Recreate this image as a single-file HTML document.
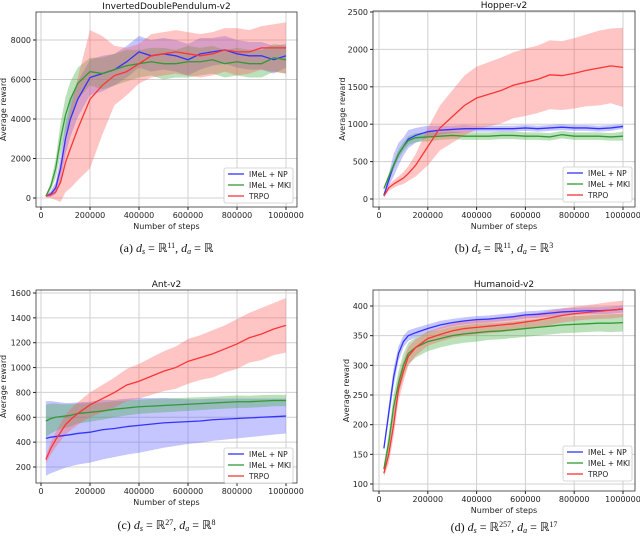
<!DOCTYPE html>
<html><head><meta charset="utf-8"><style>
body{margin:0;background:#fff;}
svg{display:block;font-family:"DejaVu Sans","Liberation Sans",sans-serif;}
.cap{font-family:"Liberation Serif",serif;font-size:12px;}
</style></head><body>
<svg id="fig" width="640" height="536" viewBox="0 0 640 536"></svg>
<script>
const steps=[20000,40000,60000,80000,100000,120000,150000,200000,250000,300000,350000,400000,450000,500000,550000,600000,650000,700000,750000,800000,850000,900000,950000,1000000];
const xTicks=[0,200000,400000,600000,800000,1000000];
const seriesNames=["IMeL + NP","IMeL + MKI","TRPO"];
// Panel a
const aTitle="InvertedDoublePendulum-v2";
const aTicks=[0,2000,4000,6000,8000];
const aNP=[100,200,500,1500,3000,4000,5000,6100,6300,6500,6900,7400,7200,7300,7200,7000,7300,7400,7500,7300,7200,7200,7000,7200];
const aNPs=[50,150,300,600,800,900,900,900,900,800,800,800,800,800,800,800,800,700,700,700,700,700,700,600];
const aMKI=[100,600,1500,3000,4200,5000,5800,6400,6300,6500,6700,6800,6900,6800,6800,6900,6900,7000,6800,6900,6800,6800,7100,7000];
const aMKIs=[50,200,500,800,900,900,800,700,800,800,800,700,700,800,700,800,700,700,700,700,700,700,700,700];
const aTR=[100,150,300,800,1800,2500,3500,5000,5700,6200,6400,6800,7200,7300,7400,7300,7200,7300,7500,7400,7400,7600,7600,7600];
const aTRs=[80,150,400,1000,1500,2000,2600,3500,2500,1500,1200,1000,1100,1100,1100,1100,1100,1100,1100,1200,1100,1100,1200,1300];
// Panel b
const bTitle="Hopper-v2";
const bTicks=[0,500,1000,1500,2000,2500];
const bNP=[50,250,450,600,700,800,850,900,920,930,940,940,940,940,940,950,940,950,960,950,950,940,950,970];
const bNPs=[20,80,150,150,120,120,100,80,60,50,50,40,40,40,40,40,40,40,40,40,40,40,40,30];
const bMKI=[140,300,450,600,700,780,820,830,840,850,840,840,840,850,850,840,840,830,860,840,840,840,830,840];
const bMKIs=[20,40,50,60,60,60,60,60,50,50,50,50,50,50,50,50,50,50,50,50,50,50,50,60];
const bTR=[40,150,200,240,280,340,450,700,950,1100,1250,1350,1400,1450,1520,1560,1600,1660,1650,1680,1720,1750,1780,1760];
const bTRs=[20,40,50,60,80,100,150,250,300,350,400,420,430,440,440,450,450,460,460,470,480,500,500,530];
// Panel c
const cTitle="Ant-v2";
const cTicks=[200,400,600,800,1000,1200,1400,1600];
const cNP=[430,440,445,450,455,460,470,480,500,510,525,535,545,555,560,565,570,580,585,590,595,600,605,610];
const cNPs=[300,290,280,270,260,255,250,245,240,230,225,220,210,200,190,180,175,170,165,160,155,150,145,140];
const cMKI=[570,590,600,605,610,615,630,640,650,665,675,685,690,695,700,705,710,715,720,725,725,730,735,735];
const cMKIs=[130,120,110,100,95,90,80,75,70,65,60,58,56,55,54,53,52,50,50,50,48,48,46,45];
const cTR=[260,350,420,480,540,580,630,700,750,800,860,890,930,970,1000,1050,1080,1110,1150,1190,1240,1270,1310,1340];
const cTRs=[30,50,60,70,80,85,90,100,110,120,130,140,150,160,170,180,180,190,190,200,200,210,210,220];
// Panel d
const dTitle="Humanoid-v2";
const dTicks=[100,150,200,250,300,350,400];
const dNP=[160,220,280,320,340,350,355,362,368,372,375,377,378,380,382,385,386,388,390,391,392,392,393,395];
const dNPs=[5,12,15,12,10,9,8,7,7,6,6,6,6,6,6,6,6,6,6,6,6,6,6,6];
const dMKI=[125,170,230,270,300,320,330,340,345,350,353,355,357,358,360,362,364,366,368,369,370,371,371,372];
const dMKIs=[8,15,20,20,20,18,17,16,15,15,15,15,14,14,14,14,14,14,14,14,14,14,15,15];
const dTR=[118,150,200,260,290,315,330,345,352,358,362,364,366,368,370,373,376,380,384,387,389,391,393,395];
const dTRs=[6,15,20,20,18,16,14,12,12,12,12,12,12,12,12,12,12,12,12,12,12,13,14,14];

const NS="http://www.w3.org/2000/svg";
const fig=document.getElementById('fig');
function mk(tag,attrs,parent,txt){const e=document.createElementNS(NS,tag);for(const k in attrs)e.setAttribute(k,attrs[k]);if(txt!==undefined)e.textContent=txt;(parent||fig).appendChild(e);return e;}
const cols=["#3333ff","#339933","#ff3333"];
const fills=["rgba(90,90,255,0.35)","rgba(60,170,60,0.35)","rgba(255,90,90,0.35)"];
function caption(g,cx,cy,label,es,ea){
  const c=mk('text',{x:cx,y:cy,'text-anchor':'middle',class:'cap',fill:'#111'},g);
  
  
  mk('tspan',{},c,label+' ');
  mk('tspan',{'font-style':'italic'},c,'d');
  mk('tspan',{'font-style':'italic','font-size':8,dy:2},c,'s');
  mk('tspan',{dy:-2},c,' = ℝ');
  if(es) mk('tspan',{'font-size':8,dy:-4},c,es);
  mk('tspan',{dy:es?4:0},c,', ');
  mk('tspan',{'font-style':'italic'},c,'d');
  mk('tspan',{'font-style':'italic','font-size':8,dy:2},c,'a');
  mk('tspan',{dy:-2},c,' = ℝ');
  if(ea) mk('tspan',{'font-size':8,dy:-4},c,ea);
}
function panel(P){
  const g=mk('g',{});
  
  
  const X=v=>P.x0+(v/1e6)*(P.x1-P.x0);
  const Y=v=>P.y0+(v-P.v0)/(P.v1-P.v0)*(P.y1-P.y0);
  const clip='clip-'+P.id;
  const cp=mk('clipPath',{id:clip},g);mk('rect',{x:P.bx0,y:P.by0,width:P.bx1-P.bx0,height:P.by1-P.by0},cp);
  xTicks.forEach(t=>{const l=mk('line',{x1:X(t),x2:X(t),y1:P.by0,y2:P.by1,stroke:'#d0d0d0','stroke-width':1},g);
    const tx=mk('text',{x:X(t),y:P.by1+11,'font-size':8,'text-anchor':'middle',fill:'#222'},g,String(t));
    mk('line',{x1:X(t),x2:X(t),y1:P.by1,y2:P.by1+3,stroke:'#222'},g);});
  P.ticks.forEach(t=>{const l=mk('line',{x1:P.bx0,x2:P.bx1,y1:Y(t),y2:Y(t),stroke:'#d0d0d0','stroke-width':1},g);
    const tx=mk('text',{x:P.bx0-5,y:Y(t)+3,'font-size':8,'text-anchor':'end',fill:'#222'},g,String(t));
    mk('line',{x1:P.bx0-3,x2:P.bx0,y1:Y(t),y2:Y(t),stroke:'#222'},g);});
  const pg=mk('g',{'clip-path':'url(#'+clip+')'},g);
  P.series.forEach((s,i)=>{
    let up=steps.map((x,j)=>X(x)+','+Y(s[0][j]+s[1][j]));
    let lo=steps.map((x,j)=>X(x)+','+Y(s[0][j]-s[1][j])).reverse();
    const b=mk('polygon',{points:up.concat(lo).join(' '),fill:fills[i],stroke:'none'},pg);
    
  });
  P.series.forEach((s,i)=>{
    const l=mk('polyline',{points:steps.map((x,j)=>X(x)+','+Y(s[0][j])).join(' '),fill:'none',stroke:cols[i],'stroke-width':1.3},pg);
    
  });
  const box=mk('rect',{x:P.bx0,y:P.by0,width:P.bx1-P.bx0,height:P.by1-P.by0,fill:'none',stroke:'#333','stroke-width':0.8},g);
  
  const t=mk('text',{x:(P.bx0+P.bx1)/2,y:P.by0-3,'font-size':9,'text-anchor':'middle',fill:'#111'},g,P.title);
  
  const xl=mk('text',{x:(P.bx0+P.bx1)/2,y:P.by1+22,'font-size':8,'text-anchor':'middle',fill:'#222'},g,'Number of steps');
  
  const cy=(P.by0+P.by1)/2;
  const yl=mk('text',{x:P.bx0-P.yo,y:cy,'font-size':8,'text-anchor':'middle',fill:'#222',transform:`rotate(-90 ${P.bx0-P.yo} ${cy})`},g,'Average reward');
  
  const lg=mk('g',{},g);
  mk('rect',{x:P.lx,y:P.ly,width:69,height:35,fill:'#fff',stroke:'#ccc','stroke-width':0.8,rx:2},lg);
  seriesNames.forEach((n,i)=>{const yy=P.ly+6+i*11;
    mk('line',{x1:P.lx+4,x2:P.lx+20,y1:yy,y2:yy,stroke:cols[i],'stroke-width':1.3},lg);
    const e=mk('text',{x:P.lx+25,y:yy+3,'font-size':7.5,fill:'#222'},lg,n);});
  caption(g,(P.bx0+P.bx1)/2,P.capY,P.cap[0],P.cap[1],P.cap[2]);
}
panel({id:'panel-a',title:aTitle,ticks:aTicks,bx0:36,bx1:297,by0:12,by1:207,x0:41,x1:286,v0:0,v1:8000,y0:198,y1:40,yo:30,lx:224,ly:168,capY:252,cap:['(a)','11',''],
  series:[[aNP,aNPs],[aMKI,aMKIs],[aTR,aTRs]]});
panel({id:'panel-b',title:bTitle,ticks:bTicks,bx0:373,bx1:635,by0:11,by1:207,x0:379,x1:623,v0:0,v1:2500,y0:199,y1:12,yo:28,lx:563,ly:167,capY:252,cap:['(b)','11','3'],
  series:[[bNP,bNPs],[bMKI,bMKIs],[bTR,bTRs]]});
panel({id:'panel-c',title:cTitle,ticks:cTicks,bx0:36,bx1:297,by0:290,by1:483,x0:41,x1:286,v0:200,v1:1600,y0:467,y1:293,yo:30,lx:224,ly:448,capY:529,cap:['(c)','27','8'],
  series:[[cNP,cNPs],[cMKI,cMKIs],[cTR,cTRs]]});
panel({id:'panel-d',title:dTitle,ticks:dTicks,bx0:373,bx1:635,by0:290,by1:491,x0:379,x1:623,v0:100,v1:400,y0:484,y1:306,yo:24,lx:563,ly:446,capY:531,cap:['(d)','257','17'],
  series:[[dNP,dNPs],[dMKI,dMKIs],[dTR,dTRs]]});
</script>
</body></html>
